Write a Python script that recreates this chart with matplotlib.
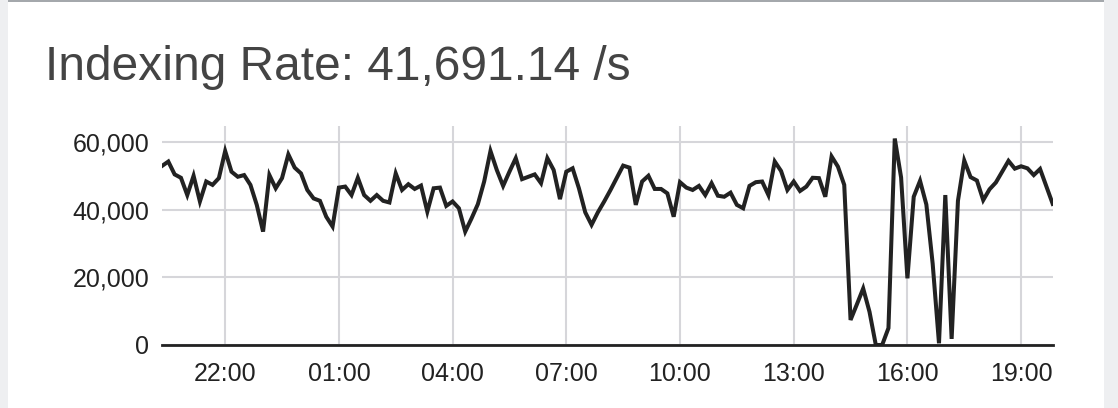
import numpy as np
import pandas as pd
import matplotlib
matplotlib.use('Agg')
import matplotlib.pyplot as plt
import matplotlib.dates as mdates
from matplotlib.patches import Rectangle
from matplotlib.ticker import FuncFormatter

plt.rcParams['font.family'] = ['Liberation Sans', 'DejaVu Sans']

# indexing rate, one sample every 10 minutes starting 20:20
title = 'Indexing Rate: 41,691.14 /s'
start = '2024-01-01 20:20'
rate = [
    52900, 54200, 50400, 49400, 44300, 50000, 42400, 48300, 47300, 49300,
    57300, 51200, 49700, 50200, 47300, 41400, 33500, 50200, 46300, 49300,
    56300, 52400, 50700, 45800, 43300, 42600, 37900, 35000, 46500, 46800,
    44300, 49400, 44300, 42600, 44300, 42600, 42100, 50700, 45800, 47500,
    46100, 47100, 39400, 46300, 46500, 41100, 42400, 40400, 33500, 37400,
    41600, 48300, 57300, 51700, 47000, 51200, 55200, 49000, 49700, 50400,
    47800, 55200, 51700, 43100, 51200, 52200, 46300, 39200, 35500, 39200,
    42400, 45800, 49400, 53000, 52400, 41400, 48300, 50000, 46100, 46100,
    44800, 37900, 48100, 46500, 45800, 47000, 44300, 47800, 44100, 43800,
    45000, 41400, 40400, 47000, 48100, 48300, 44300, 54200, 51400, 45800,
    48300, 45500, 46800, 49400, 49300, 43800, 55700, 52700, 47300, 7400,
    12000, 16700, 9800, 0, 0, 5000, 61000, 49500, 19700, 43800,
    48500, 41500, 24000, 500, 44300, 1800, 42600, 54500, 49600, 48600,
    42800, 46000, 48000, 51200, 54400, 52100, 52800, 52200, 50200, 52000,
    46800, 41691,
]
yticks = [0, 20000, 40000, 60000]
tick_hours = [22, 1, 4, 7, 10, 13, 16, 19]

times = pd.date_range(start, periods=len(rate), freq='10min')

fig = plt.figure(figsize=(11.18, 4.08), dpi=100, facecolor='#eeeff1')
# white panel with its darker top edge
fig.patches.append(Rectangle((8 / 1118, 0), 1096 / 1118, 1, transform=fig.transFigure,
                             facecolor='white', edgecolor='none', zorder=-2))
fig.patches.append(Rectangle((8 / 1118, 406 / 408), 1096 / 1118, 2 / 408, transform=fig.transFigure,
                             facecolor='#a4a8ac', edgecolor='none', zorder=-1))

fig.text(45 / 1118, 328 / 408, title, fontsize=34.5, color='#444444', va='baseline', ha='left')

ax = fig.add_axes([162 / 1118, 63 / 408, 890.7 / 1118, 219 / 408])
ax.set_zorder(1)
ax.patch.set_alpha(0)
ax.plot(times, rate, color='#222222', lw=2.9, solid_joinstyle='miter', zorder=3)

ax.set_xlim(times[0], times[-1])
ax.set_ylim(0, 64700)
ax.set_yticks(yticks)
ax.yaxis.set_major_formatter(FuncFormatter(lambda v, p: f'{int(v):,}'))
ax.xaxis.set_major_locator(mdates.HourLocator(byhour=tick_hours))
ax.xaxis.set_major_formatter(mdates.DateFormatter('%H:%M'))

ax.grid(True, color='#d6d6da', lw=1.5)
ax.set_axisbelow(True)
for side in ['top', 'right', 'left']:
    ax.spines[side].set_visible(False)
ax.spines['bottom'].set_color('#222222')
ax.spines['bottom'].set_linewidth(2)
ax.spines['bottom'].set_zorder(4)
ax.tick_params(axis='both', length=0, labelsize=18, labelcolor='#222222')
ax.tick_params(axis='x', pad=12)
ax.tick_params(axis='y', pad=9)

plt.savefig('out.png', dpi=100, facecolor=fig.get_facecolor())
